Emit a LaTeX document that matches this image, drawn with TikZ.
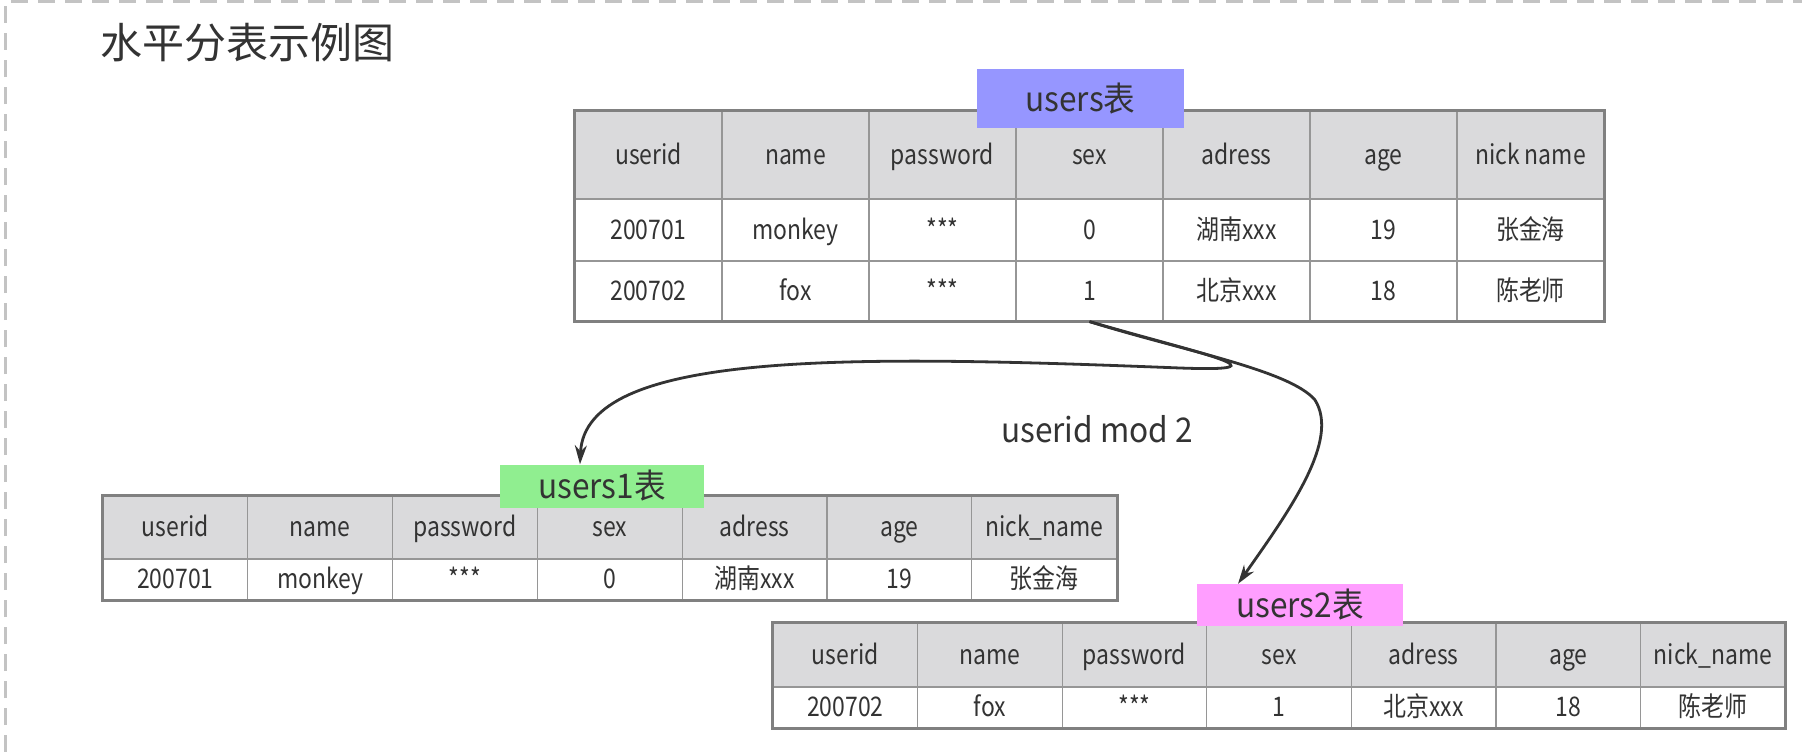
\documentclass[tikz,border=0pt]{standalone}
\usepackage{fontspec}
\setmainfont{Noto Sans CJK SC}
\newfontfamily\cellfont[FakeStretch=0.85]{Noto Sans CJK SC}
\newfontfamily\tagfont[FakeStretch=0.93]{Noto Sans CJK SC}
\usetikzlibrary{positioning, calc, arrows.meta}

\definecolor{txtgray}{RGB}{51,51,51}
\definecolor{headgray}{RGB}{218,218,220}
\definecolor{gridgray}{RGB}{150,150,150}
\definecolor{framegray}{RGB}{128,128,128}
\definecolor{dashgray}{RGB}{195,195,195}
\definecolor{bluetag}{RGB}{150,150,255}
\definecolor{greentag}{RGB}{144,238,144}
\definecolor{pinktag}{RGB}{255,158,255}

\tikzset{
    cell/.style={draw=gridgray, line width=1.2pt, inner sep=0pt, text=txtgray,
        font=\cellfont\fontsize{27}{31}\selectfont, text height=18pt, text depth=0pt},
    headcell/.style={cell, fill=headgray},
    frame/.style={draw=framegray, line width=3pt},
    tag/.style={inner sep=0pt, text=txtgray, font=\tagfont\fontsize{34}{40}\selectfont},
    link/.style={draw=txtgray, line width=2.8pt, -{Stealth[length=19pt, width=12pt]}},
}

\begin{document}
\begin{tikzpicture}[x=1pt, y=-1pt]
    \fill[white] (0,0) rectangle (1802,752);
    \useasboundingbox (0,0) rectangle (1802,752);
    \draw[dashgray, line width=3pt, dash pattern=on 17pt off 10pt] (5,752) -- (5,2) -- (1802,2);

    \node[font=\fontsize{42}{48}\selectfont, text=txtgray] (title) at (247,43) {水平分表示例图};

    % users
    \foreach \t [count=\i] in {userid,name,password,sex,adress,age,nick name}
        \node[headcell, minimum width=147pt, minimum height=88pt] (u-h\i) at (501.5+147*\i, 155) {\t};
    \foreach \t [count=\i] in {200701,monkey,***,0,湖南xxx,19,张金海}
        \node[cell, minimum width=147pt, minimum height=62pt] (u-a\i) at (501.5+147*\i, 230) {\t};
    \foreach \t [count=\i] in {200702,fox,***,1,北京xxx,18,陈老师}
        \node[cell, minimum width=147pt, minimum height=60pt] (u-b\i) at (501.5+147*\i, 291) {\t};
    \draw[frame] (u-h1.north west) rectangle (u-b7.south east);
    \node[tag, fill=bluetag, minimum width=207pt, minimum height=59pt] (t0) at (1080.5,98.5) {users表};

    % users1
    \foreach \t [count=\i] in {userid,name,password,sex,adress,age,nick\_name}
        \node[headcell, minimum width=144.8pt, minimum height=63pt] (a-h\i) at (30.6+144.8*\i, 527.5) {\t};
    \foreach \t [count=\i] in {200701,monkey,***,0,湖南xxx,19,张金海}
        \node[cell, minimum width=144.8pt, minimum height=41pt] (a-a\i) at (30.6+144.8*\i, 579.5) {\t};
    \draw[frame] (a-h1.north west) rectangle (a-a7.south east);
    \node[tag, fill=greentag, minimum width=204pt, minimum height=43pt] (t1) at (602,486) {users1表};

    % users2
    \foreach \t [count=\i] in {userid,name,password,sex,adress,age,nick\_name}
        \node[headcell, minimum width=144.6pt, minimum height=64pt] (b-h\i) at (700.7+144.6*\i, 655) {\t};
    \foreach \t [count=\i] in {200702,fox,***,1,北京xxx,18,陈老师}
        \node[cell, minimum width=144.6pt, minimum height=41pt] (b-a\i) at (700.7+144.6*\i, 707.5) {\t};
    \draw[frame] (b-h1.north west) rectangle (b-a7.south east);
    \node[tag, fill=pinktag, minimum width=206pt, minimum height=42pt] (t2) at (1300,605) {users2表};

    \node[tag] (rule) at (1097,429) {userid mod 2};

    \coordinate (in1) at ($(t1.north)+(-22,0)$);
    \coordinate (in2) at ($(t2.north)+(-62,0)$);
    \draw[link] (u-b4.south) .. controls (1205,355) and (1290,372) .. (1180,368)
        .. controls (850,355) and (585,350) .. (in1);
    \draw[link] (u-b4.south) .. controls (1180,350) and (1290,370) .. (1315,400)
        .. controls (1340,440) and (1290,510) .. (in2);
\end{tikzpicture}
\end{document}
